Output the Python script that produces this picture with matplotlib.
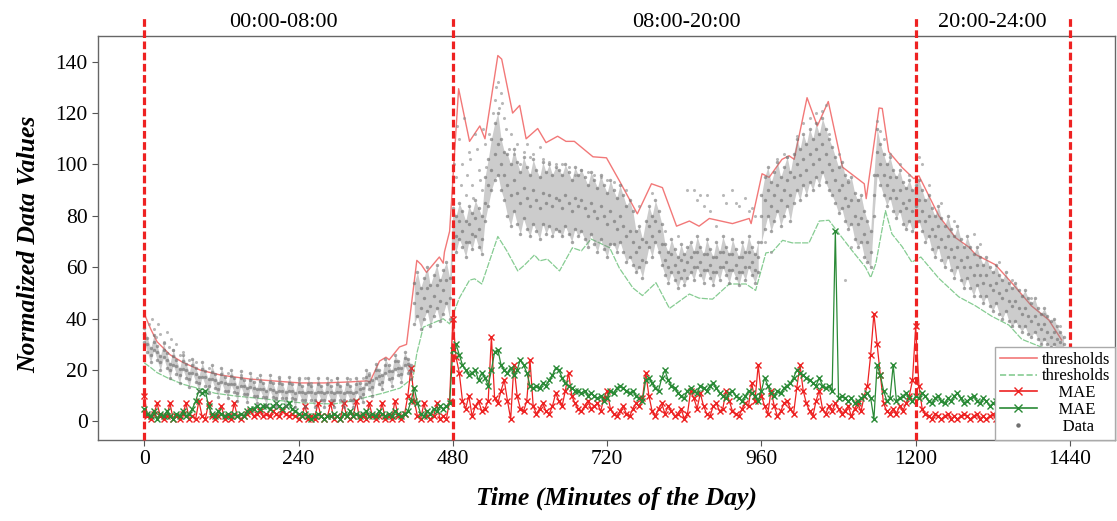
import numpy as np
import matplotlib
matplotlib.use("Agg")
import matplotlib.pyplot as plt
from matplotlib.lines import Line2D

plt.rcParams['font.family'] = ['Liberation Serif', 'DejaVu Serif']

STEP = 5  # minutes between samples

# ---------------- thresholds (knots) ----------------
thr_up_t = [0, 10, 20, 40, 60, 87, 120, 165, 200, 242, 280, 320, 346, 351, 366, 376, 381, 397, 408,
            424, 431, 439, 459, 465, 467, 475, 489, 506, 522, 530, 550, 556, 573, 584, 594, 612, 625,
            643, 656, 669, 698, 719, 739, 767, 789, 806, 828, 848, 863, 879, 915, 941, 944, 961, 972,
            992, 1003, 1011, 1031, 1047, 1064, 1086, 1120, 1123, 1143, 1148, 1158, 1179, 1197, 1205,
            1236, 1262, 1283, 1293, 1324, 1350, 1380, 1407, 1427]
thr_up_v = [42, 36, 31, 26, 23, 20, 18, 16.5, 15.8, 15, 15, 15.4, 15.8, 15.4, 23.5, 25, 24, 29, 30,
            62.7, 61, 58, 64, 61.6, 66, 74, 129.5, 109, 115, 110, 142.4, 141, 120, 123, 110, 114, 108.5,
            111, 109, 109, 103, 102.6, 93.7, 80.8, 92.5, 91, 76, 78, 76, 79, 77, 79, 77, 96.4, 95,
            102, 103.4, 102, 126, 115, 124.5, 99, 92.5, 86.7, 122, 121.8, 105, 98.8, 94.5, 95.6,
            80, 71.5, 67.8, 65, 61, 53.8, 45, 39.5, 31.7]

thr_lo_t = [0, 10, 20, 36, 60, 87, 110, 139, 190, 242, 294, 325, 346, 371, 398, 418, 424, 434, 465,
            475, 490, 506, 514, 525, 550, 564, 581, 592, 607, 615, 627, 646, 666, 680, 695, 708, 724,
            739, 760, 775, 796, 817, 848, 863, 884, 910, 936, 951, 967, 977, 993, 1008, 1034, 1050,
            1065, 1081, 1101, 1122, 1130, 1138, 1153, 1163, 1179, 1194, 1208, 1236, 1267, 1293, 1318,
            1345, 1365, 1395, 1425]
thr_lo_v = [22.8, 21, 19, 17, 14.5, 12.7, 11, 10, 8.7, 7.3, 6.8, 8, 9.5, 11, 13, 17, 26.5, 36.7, 40,
            38, 48, 55, 55.5, 53.5, 72, 66.4, 58.6, 61, 64.8, 62.5, 63.2, 58.6, 67.6, 66.4, 71, 69.5, 67.6,
            59.7, 52, 49, 54, 44, 49.6, 48, 47.6, 53.5, 53.5, 51, 65.6, 66, 70.5, 69.5, 69.5, 78,
            78.3, 73, 66.5, 60, 56, 61.5, 82, 73, 68, 62, 64, 55.7, 48.5, 45, 41,
            37.5, 32, 29, 27]

# ---------------- MAE series (every 5 minutes), three segments each ----------------
mae_start = [0, 480, 960]
mae_red_a = [10, 2, 1, 3, 7, 2, 1, 2, 7, 1,
             2, 1, 3, 7, 1, 2, 1, 8, 2, 1,
             7, 2, 1, 2, 6, 1, 2, 1, 7, 2,
             1, 2, 3, 4, 2, 3, 4, 2, 3, 2,
             4, 3, 2, 4, 3, 2, 3, 2, 1, 2,
             6, 1, 2, 1, 7, 2, 1, 2, 7, 1,
             2, 1, 7, 2, 1, 2, 8, 1, 2, 1,
             7, 2, 1, 2, 7, 1, 2, 1, 8, 2,
             1, 3, 10, 21, 8, 2, 1, 7, 2, 1,
             2, 7, 1, 2, 1, 8]
mae_red_b = [40, 25, 19, 8, 5, 10, 2, 6, 8, 4,
             5, 8, 33, 9, 7, 12, 16, 8, 1, 22,
             10, 5, 4, 8, 24, 6, 3, 5, 7, 4,
             3, 6, 11, 8, 6, 12, 19, 10, 7, 5,
             4, 6, 8, 5, 6, 7, 4, 9, 12, 5,
             3, 2, 4, 6, 3, 2, 5, 7, 6, 9,
             19, 10, 4, 2, 5, 7, 3, 6, 4, 2,
             3, 5, 1, 3, 12, 9, 5, 11, 6, 3,
             2, 6, 7, 4, 5, 12, 8, 4, 3, 2,
             5, 7, 6, 15, 8, 22]
mae_red_c = [10, 6, 3, 12, 6, 2, 4, 7, 8, 5,
             3, 13, 22, 12, 7, 4, 2, 8, 12, 5,
             3, 6, 4, 7, 5, 3, 4, 6, 2, 5,
             7, 4, 10, 14, 26, 42, 30, 18, 7, 4,
             3, 5, 3, 6, 4, 7, 10, 16, 37, 14,
             5, 3, 2, 1, 3, 2, 1, 2, 3, 1,
             2, 1, 2, 3, 2, 1, 2, 3, 1, 2,
             1, 2, 3, 1, 2, 1, 2, 3, 2, 1,
             2, 1, 3, 2, 1, 2, 1, 3, 2, 1,
             2, 1, 2, 3, 2, 1]

mae_grn_a = [5, 3, 2, 4, 1, 3, 2, 4, 2, 1,
             3, 2, 4, 2, 3, 5, 8, 12, 11, 12,
             6, 3, 2, 4, 3, 2, 3, 2, 3, 2,
             3, 2, 4, 5, 5, 6, 5, 6, 6, 5,
             6, 7, 6, 5, 6, 7, 5, 4, 3, 2,
             3, 2, 1, 2, 3, 2, 1, 2, 2, 3,
             2, 1, 3, 2, 4, 2, 3, 2, 3, 4,
             2, 3, 2, 4, 3, 2, 3, 2, 4, 3,
             2, 3, 4, 8, 13, 7, 3, 2, 4, 3,
             5, 4, 6, 5, 6, 7]
mae_grn_b = [28, 30, 26, 22, 20, 18, 19, 20, 16, 19,
             17, 14, 20, 27, 28, 22, 20, 19, 21, 18,
             20, 24, 22, 19, 14, 13, 14, 13, 15, 14,
             16, 18, 21, 20, 17, 15, 14, 13, 12, 12,
             11, 12, 10, 11, 10, 9, 10, 8, 9, 12,
             11, 13, 14, 13, 12, 11, 12, 10, 9, 8,
             16, 17, 15, 13, 12, 17, 20, 16, 14, 13,
             11, 10, 9, 12, 13, 12, 11, 14, 13, 12,
             14, 15, 13, 11, 10, 9, 11, 12, 10, 9,
             8, 10, 12, 11, 10, 8]
mae_grn_c = [12, 17, 14, 11, 10, 12, 11, 13, 14, 15,
             17, 20, 19, 18, 17, 16, 15, 14, 17, 14,
             13, 14, 12, 74, 9, 10, 9, 8, 9, 7,
             8, 9, 10, 11, 9, 1, 22, 18, 12, 8,
             9, 22, 8, 9, 10, 11, 9, 8, 10, 9,
             11, 10, 8, 7, 9, 10, 8, 7, 9, 8,
             10, 11, 9, 7, 8, 9, 10, 8, 7, 9,
             8, 6, 7, 8, 9, 7, 8, 6, 7, 8,
             6, 5, 7, 8, 6, 7, 5, 6, 7, 5,
             6, 7, 5, 6, 5, 6]

# ---------------- Data cloud (every 5 minutes), three segments ----------------
data_start = [0, 420, 960]
data_lo_1 = [31, 27, 23, 28, 24, 20, 25, 21, 17, 22, 18.5, 15, 20.5, 17, 13.5, 19, 15.5, 12,
             17.5, 14, 11, 16.5, 13, 9.5, 15.5, 12, 9, 14.5, 11.5, 8, 14, 10.5, 7.5, 13.5, 10, 7,
             12.5, 9.5, 6.5, 12.5, 9.5, 6, 12, 9, 6, 12, 9, 5.5, 11.5, 8.5, 5.5,
             11.5, 8.5, 5.5, 11.5, 8.5, 5.5, 11.5, 8.5, 5.5, 11.5, 8.5, 5.5, 11.5, 8.5, 5.5,
             11.5, 9.5, 7.5, 14.5, 12.5, 10, 17, 14.5, 12.5, 19, 16.5, 14, 20.5, 18, 15.5, 22, 19, 16.5]
data_mid_1 = [34, 30, 26, 31, 27, 23, 28, 24, 20, 25.3, 21.7, 18, 23.5, 20, 16.4, 21.9, 18.4, 15,
              20.6, 17.2, 13.8, 19.4, 16, 12.7, 18.4, 15.1, 11.8, 17.6, 14.4, 11.2, 17, 13.7, 10.5,
              16.3, 13.1, 9.9, 15.7, 12.6, 9.5, 15.4, 12.3, 9.2, 15.1, 12, 9, 14.9, 11.8, 8.7,
              14.6, 11.5, 8.5, 14.5, 11.5, 8.5, 14.5, 11.5, 8.5, 14.5, 11.5, 8.5, 14.5, 11.5, 8.5,
              14.5, 11.5, 8.5, 14.5, 12.5, 10.5, 17.5, 15.5, 13.3, 20, 17.7, 15.4, 22, 19.5, 17,
              23.5, 21, 18.4, 24.8, 22.2, 19.6]
data_hi_1 = [36.5, 32.5, 28.5, 33.5, 29.5, 25.5, 30.5, 26.5, 22.5, 28, 24, 20.5, 26, 22.5, 19,
             24.5, 21, 17.5, 23, 19.5, 16.5, 22, 18.5, 15, 21, 17.5, 14.5, 20, 17, 13.5, 19.5, 16, 13,
             19, 15.5, 12.5, 18, 15, 12, 18, 15, 11.5, 17.5, 14.5, 11.5, 17.5, 14.5, 11, 17, 14, 11,
             17, 14, 11, 17, 14, 11, 17, 14, 11, 17, 14, 11, 17, 14, 11,
             17, 15, 13, 20, 18, 16, 22.5, 20, 18, 24.5, 22, 19.5, 26, 23.5, 21, 27, 24.5, 22]

data_lo_2 = [38, 41, 36, 40, 43, 37, 41, 44, 39, 42, 46, 40,
             69, 66, 71, 68, 64, 70, 67, 72, 68, 65,
             78, 84, 90, 94, 96, 90, 86,
             80, 76, 82, 77, 73, 79, 75, 72,
             77, 74, 71, 77, 73, 76, 72, 75, 74,
             72, 76, 73, 70, 75, 72, 74, 71, 68, 73,
             69, 66, 71, 67, 64, 69,
             69, 66, 70, 66, 62, 64, 61,
             58, 60, 56, 62,
             68, 64, 70, 66, 61,
             57, 54, 58, 55, 52, 56, 53, 56,
             58, 55, 60, 57, 54, 59, 56, 53, 58, 55, 60, 57, 54, 59, 56, 53, 58, 55, 60, 57, 54, 58]
data_mid_2 = [46, 50, 44, 48, 52, 45, 49, 53, 47, 51, 55, 48,
              76, 72, 78, 74, 70, 77, 73, 79, 75, 71,
              85, 92, 98, 104, 108, 100, 96,
              92, 88, 94, 89, 85, 91, 87, 84,
              90, 86, 83, 89, 85, 88, 84, 87, 86,
              83, 88, 85, 82, 87, 84, 86, 83, 80, 85,
              82, 79, 84, 80, 77, 82,
              78, 75, 80, 76, 72, 74, 70,
              66, 68, 63, 70,
              76, 72, 78, 74, 69,
              63, 60, 65, 61, 58, 63, 59, 62,
              64, 60, 66, 62, 59, 65, 61, 58, 64, 60, 66, 62, 59, 65, 61, 58, 64, 60, 66, 62, 59, 64]
data_hi_2 = [54, 58, 52, 56, 60, 53, 57, 61, 55, 59, 62, 56,
             83, 80, 85, 82, 78, 84, 81, 86, 83, 80,
             95, 102, 110, 116, 120, 110, 105,
             104, 100, 106, 101, 97, 103, 99, 96,
             102, 98, 95, 101, 97, 100, 96, 99, 98,
             96, 100, 97, 94, 99, 96, 98, 95, 92, 97,
             94, 91, 96, 92, 89, 94,
             90, 87, 92, 88, 84, 86, 82,
             74, 76, 71, 78,
             84, 80, 86, 82, 77,
             69, 66, 71, 67, 64, 69, 65, 68,
             70, 66, 72, 68, 65, 71, 67, 64, 70, 66, 72, 68, 65, 71, 67, 64, 70, 66, 72, 68, 65, 70]

data_lo_3 = [70, 75, 80, 74, 78, 82, 76, 80, 84, 78,
             85, 90, 86, 92, 88, 93, 90,
             95, 92, 97, 93, 90, 88,
             85, 81, 83, 78, 75, 77, 71, 68, 70, 64, 62,
             60, 80, 96, 92,
             88, 84, 87, 82, 79, 82, 77, 75, 78, 74, 76,
             78, 74, 70, 72, 67, 64, 68, 63, 60, 64, 59, 56, 60, 55, 52, 56, 52, 49, 53, 49, 46, 49,
             45, 43, 46, 42, 40, 43, 39, 37, 39, 37, 35, 37, 34, 33, 35, 32, 30, 32, 30, 29, 30, 28, 28, 27]
data_mid_3 = [80, 86, 90, 84, 88, 92, 86, 90, 94, 88,
              95, 100, 96, 102, 98, 104, 100,
              106, 102, 108, 104, 100, 98,
              94, 90, 92, 87, 84, 86, 80, 77, 79, 73, 70,
              66, 88, 105, 100,
              96, 92, 95, 90, 87, 90, 85, 83, 86, 82, 84,
              86, 82, 78, 80, 75, 72, 76, 71, 68, 72, 67, 64, 68, 63, 60, 64, 60, 57, 61, 57, 54, 57,
              53, 51, 54, 50, 48, 51, 47, 45, 47, 44, 42, 44, 41, 39, 41, 38, 36, 38, 35, 33, 35, 32, 31, 30]
data_hi_3 = [88, 95, 99, 93, 97, 101, 95, 99, 103, 97,
             104, 110, 106, 112, 108, 114, 110,
             116, 112, 118, 114, 110, 107,
             103, 99, 101, 96, 93, 95, 89, 86, 88, 82, 78,
             74, 96, 114, 108,
             104, 100, 103, 98, 95, 98, 93, 91, 94, 90, 92,
             94, 90, 86, 88, 83, 80, 84, 79, 76, 80, 75, 72, 76, 71, 68, 72, 68, 65, 68, 64, 61, 64,
             60, 58, 61, 57, 55, 58, 54, 52, 54, 51, 49, 51, 48, 46, 48, 44, 42, 44, 41, 39, 40, 37, 35, 33]

# sparse points outside the dense band
out_t = [8, 12, 15, 18, 22, 25, 30, 35, 38, 42, 45, 50, 55, 60, 70, 80, 100, 130, 150, 175, 210, 240,
         250, 260, 290, 300, 320, 340, 350,
         485, 490, 495, 500, 505, 510, 515, 520, 525, 530, 545, 550, 555, 560, 570, 580, 590, 600,
         620, 640, 660, 680, 700, 720, 855, 860, 865, 870, 880, 900, 905, 915, 925, 935, 945, 950,
         1000, 1025, 1055, 1060, 1090, 1100, 1140, 1145, 1205, 1210, 1240, 1290, 1330, 1400, 1425,
         482, 487, 492, 497, 502, 507, 512, 517, 522, 527, 532, 537, 542, 547, 552, 557, 562, 567,
         575, 585, 595, 605, 615, 630, 650, 670, 690, 710, 730, 750, 770, 790, 810, 830, 845, 875,
         890, 920, 940, 965, 975, 985, 995, 1015, 1035, 1045, 1065, 1080, 1095, 1110, 1150, 1160,
         1175, 1190, 1220, 1260, 1300, 1350, 1380]
out_v = [38, 40, 36, 33, 38, 34, 31, 35, 29, 32, 28, 30, 26, 27, 24, 23, 21, 19, 18, 17, 16.5, 16,
         17, 15, 16, 17, 16.5, 17, 19,
         95, 110, 100, 88, 105, 92, 112, 98, 90, 108, 125, 132, 128, 118, 112, 108, 105, 103,
         102, 100, 99, 98, 96, 94, 90, 86, 88, 84, 82, 88, 85, 90, 84, 87, 83, 80,
         103, 116, 121, 123, 55, 68, 117, 113, 103, 100, 85, 73, 62, 42, 37,
         100, 115, 92, 118, 96, 102, 87, 106, 94, 114, 99, 112, 120, 130, 122, 124, 114, 106,
         104, 100, 108, 104, 107, 101, 100, 96, 97, 95, 93, 90, 84, 89, 74, 72, 90, 88,
         76, 85, 82, 70, 66, 102, 104, 111, 118, 120, 112, 104, 94, 86, 110, 104,
         100, 96, 92, 78, 69, 55, 48]

periods = [0, 480, 1200, 1440]
period_labels = ["00:00-08:00", "08:00-20:00", "20:00-24:00"]
period_label_x = [216, 843, 1319]
xticks = [0, 240, 480, 720, 960, 1200, 1440]
yticks = [0, 20, 40, 60, 80, 100, 120, 140]

C_UP = '#f27878'
C_LO = '#86cc92'
C_RED = '#ee2222'
C_GRN = '#2a8a36'
C_DATA = '#808080'

# ---------------- figure ----------------
fig = plt.figure(figsize=(11.17, 5.21), dpi=100)
ax = fig.add_axes([0.0877, 0.1555, 0.9105, 0.7754])

ax.plot(thr_up_t, thr_up_v, color=C_UP, lw=1.0, zorder=2)
ax.plot(thr_lo_t, thr_lo_v, color=C_LO, lw=0.9, ls=(0, (5, 1)), zorder=2)


def seg_series(starts, segs):
    ts, vs = [], []
    for s, seg in zip(starts, segs):
        ts.extend(s + STEP * np.arange(len(seg)))
        vs.extend(seg)
    return np.array(ts), np.array(vs)


rt, rv = seg_series(mae_start, [mae_red_a, mae_red_b, mae_red_c])
gt, gv = seg_series(mae_start, [mae_grn_a, mae_grn_b, mae_grn_c])
ax.plot(rt, rv, color=C_RED, lw=0.9, marker='x', ms=4.5, mew=1.0, zorder=3)
ax.plot(gt, gv, color=C_GRN, lw=0.9, marker='x', ms=4.5, mew=1.0, zorder=3)

# dense grey cloud: shaded between the read low / high edges, with the read points on top
for s, lo, hi in zip(data_start, [data_lo_1, data_lo_2, data_lo_3], [data_hi_1, data_hi_2, data_hi_3]):
    tt = s + STEP * np.arange(min(len(lo), len(hi)))
    ax.fill_between(tt, lo[:len(tt)], hi[:len(tt)], color=C_DATA, alpha=0.4, lw=0, zorder=4)
for series in ([data_lo_1, data_lo_2, data_lo_3],
               [data_mid_1, data_mid_2, data_mid_3],
               [data_hi_1, data_hi_2, data_hi_3]):
    dt, dv = seg_series(data_start, series)
    ax.scatter(dt, dv, s=6, color='#6a6a6a', alpha=0.6, linewidths=0, zorder=4)
ax.scatter(out_t, out_v, s=5, color='#8a8a8a', alpha=0.6, linewidths=0, zorder=4)

ax.set_xlim(-72, 1510)
ax.set_ylim(-7.2, 150)

for p in periods:
    ax.plot([p, p], [-7.2, 157.5], color=C_RED, lw=2.3, ls=(0, (2.4, 1.1)),
            clip_on=False, zorder=6)
for lx, lab in zip(period_label_x, period_labels):
    ax.text(lx, 155.3, lab, ha='center', va='center', fontsize=16, clip_on=False)

ax.set_xticks(xticks)
ax.set_yticks(yticks)
ax.tick_params(labelsize=15.5, direction='out', length=4, color='#555555', width=0.8)
for sp in ax.spines.values():
    sp.set_color('#666666')
    sp.set_linewidth(1.0)

ax.set_xlabel('Time (Minutes of the Day)', fontsize=18.5, fontweight='bold', fontstyle='italic')
ax.set_ylabel('Normalized Data Values', fontsize=18.5, fontweight='bold', fontstyle='italic')
ax.xaxis.set_label_coords(0.51, -0.116)
ax.yaxis.set_label_coords(-0.057, 0.484)

handles = [Line2D([], [], color=C_UP, lw=1.2),
           Line2D([], [], color=C_LO, lw=1.2, ls='--'),
           Line2D([], [], color=C_RED, lw=1.2, marker='x', ms=6),
           Line2D([], [], color=C_GRN, lw=1.2, marker='x', ms=6),
           Line2D([], [], color='#707070', lw=0, marker='o', ms=2.2)]
labels = ['thresholds', 'thresholds', '    MAE', '    MAE', '     Data']
leg = ax.legend(handles, labels, loc='lower right', fontsize=12, frameon=True, fancybox=False,
                edgecolor='#aaaaaa', framealpha=1, borderaxespad=0.0, labelspacing=0.05,
                borderpad=0.3, handletextpad=0.3, handlelength=2.2)
leg.set_zorder(10)

fig.savefig('out.png', dpi=100)
